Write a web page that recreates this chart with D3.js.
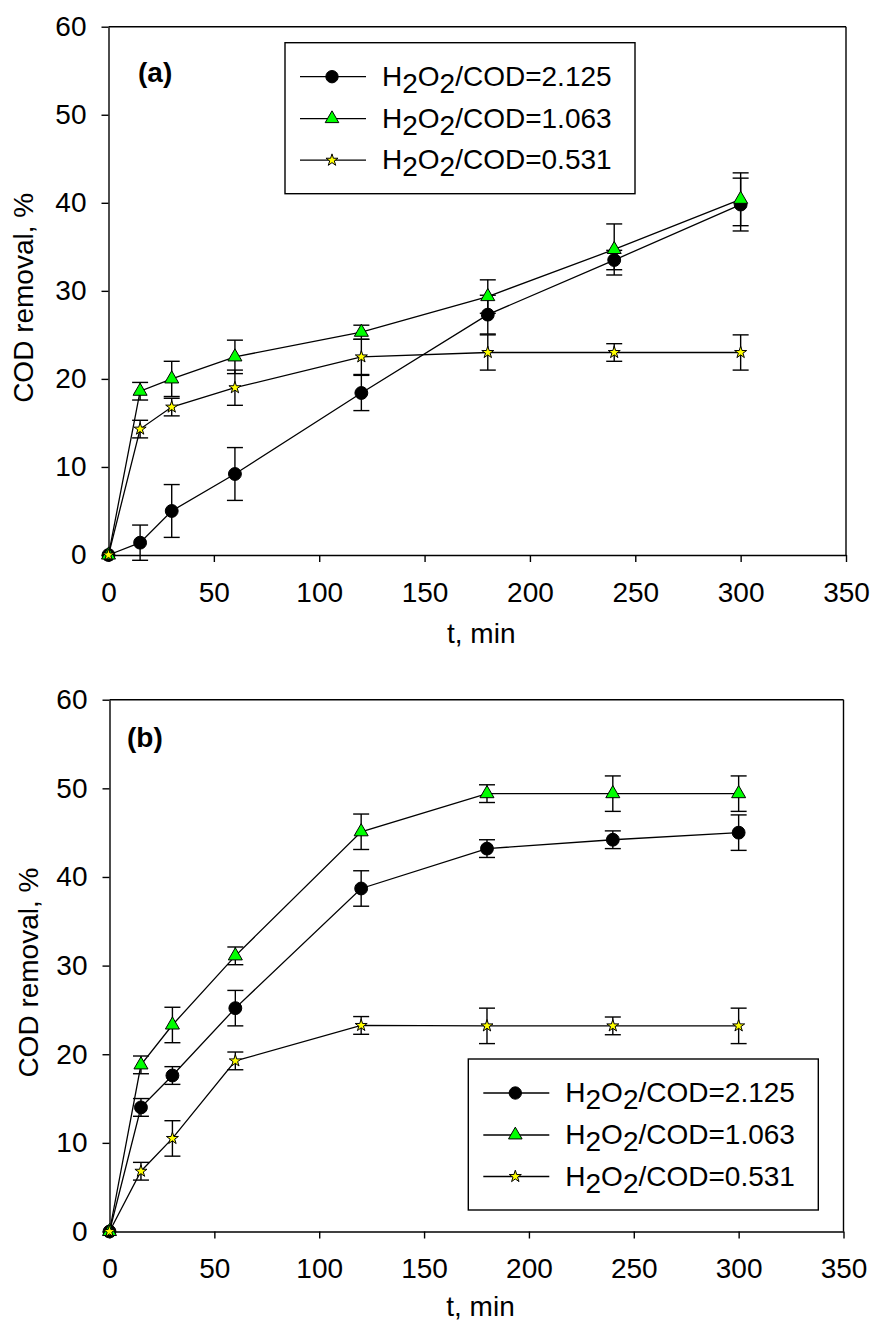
<!DOCTYPE html>
<html>
<head>
<meta charset="utf-8">
<script src="https://cdn.jsdelivr.net/npm/d3@7"></script>
<style>
  body { margin: 0; background: #fff; }
  svg { display: block; }
  text { font-family: "Liberation Sans", Arial, sans-serif; fill: #000; }
</style>
</head>
<body>
<div id="chart"></div>
<script>
// sampling times (min)
const times = [0, 15, 30, 60, 120, 180, 240, 300];
const ratios = ["2.125", "1.063", "0.531"];
const xTicks = [0, 50, 100, 150, 200, 250, 300, 350];
const yTicks = [0, 10, 20, 30, 40, 50, 60];

// panel (a) COD removal, % and error
const aHigh = [0, 1.4, 5.0, 9.2, 18.4, 27.3, 33.5, 39.8];
const aHighErr = [0, 2, 3, 3, 2, 2.2, 1.1, 3.0];
const aMid = [0, 18.6, 20.0, 22.5, 25.3, 29.35, 34.7, 40.4];
const aMidErr = [0, 1, 2, 1.9, 0.8, 1.9, 2.9, 3.0];
const aLow = [0, 14.3, 16.8, 19.0, 22.5, 23.0, 23.0, 23.0];
const aLowErr = [0, 1, 1, 2, 2, 2, 1, 2];

// panel (b)
const bHigh = [0, 14.0, 17.6, 25.2, 38.7, 43.2, 44.2, 45.0];
const bHighErr = [0, 1, 1, 2, 2, 1, 1, 2];
const bMid = [0, 18.8, 23.3, 31.1, 45.1, 49.4, 49.4, 49.4];
const bMidErr = [0, 1, 2, 1, 2, 1, 2, 2];
const bLow = [0, 6.8, 10.5, 19.25, 23.25, 23.2, 23.2, 23.2];
const bLowErr = [0, 1, 2, 1, 1, 2, 1, 2];

// marker styles per series
const markers = [
    { type: d3.symbolCircle, size: 130, fill: "#000000", legSize: 120 },
    { type: d3.symbolTriangle, size: 85, fill: "#00ff00", legSize: 80 },
    { type: d3.symbolStar, size: 45, fill: "#ffff00", legSize: 45 }
];

const fontSize = 28;

const svg = d3.select("#chart")
    .append("svg")
    .attr("width", 872)
    .attr("height", 1322);

svg.append("rect").attr("width", 872).attr("height", 1322).attr("fill", "#fff");

const panels = [
    {
        tag: "(a)", tagX: 138, tagY: 82,
        values: [aHigh, aMid, aLow], errors: [aHighErr, aMidErr, aLowErr],
        x0: 108.5, x1: 846, y0: 555, y1: 26.7,
        legX: 285, legY: 42.7, yLabX: 23, titleDy: 88
    },
    {
        tag: "(b)", tagX: 127, tagY: 747,
        values: [bHigh, bMid, bLow], errors: [bHighErr, bMidErr, bLowErr],
        x0: 109.5, x1: 843.5, y0: 1231.5, y1: 699.7,
        legX: 468.3, legY: 1059, yLabX: 27.5, titleDy: 84
    }
];

function styleAxis(g) {
    g.select(".domain").attr("stroke", "#000").attr("stroke-width", 1.4);
    g.selectAll(".tick line").attr("stroke", "#000").attr("stroke-width", 1.4);
    g.selectAll(".tick text")
        .attr("fill", "#000")
        .style("font-size", fontSize + "px")
        .style("font-family", '"Liberation Sans", Arial, sans-serif');
}

function drawPanel(p) {
    const x = d3.scaleLinear().domain([0, 350]).range([p.x0, p.x1]);
    const y = d3.scaleLinear().domain([0, 60]).range([p.y0, p.y1]);
    const g = svg.append("g");

    // frame (top and right)
    g.append("line")
        .attr("x1", x(0)).attr("x2", x(350)).attr("y1", y(60)).attr("y2", y(60))
        .attr("stroke", "#000").attr("stroke-width", 1.4);
    g.append("line")
        .attr("x1", x(350)).attr("x2", x(350)).attr("y1", y(60)).attr("y2", y(0))
        .attr("stroke", "#000").attr("stroke-width", 1.4);

    g.append("g")
        .attr("transform", `translate(0,${y(0)})`)
        .call(d3.axisBottom(x).tickValues(xTicks).tickSize(7).tickSizeOuter(0).tickPadding(20))
        .call(styleAxis);

    g.append("g")
        .attr("transform", `translate(${x(0)},0)`)
        .call(d3.axisLeft(y).tickValues(yTicks).tickSize(7).tickSizeOuter(0).tickPadding(15))
        .call(styleAxis);

    // axis titles
    g.append("text")
        .attr("x", (x(0) + x(350)) / 2 + 4)
        .attr("y", y(0) + p.titleDy)
        .attr("text-anchor", "middle")
        .style("font-size", fontSize + "px")
        .text("t, min");

    g.append("text")
        .attr("transform", `translate(${p.yLabX + 10},${(y(0) + y(60)) / 2 + 7}) rotate(-90)`)
        .attr("text-anchor", "middle")
        .style("font-size", fontSize + "px")
        .text("COD removal, %");

    g.append("text")
        .attr("x", p.tagX).attr("y", p.tagY)
        .style("font-size", fontSize + "px")
        .style("font-weight", "bold")
        .text(p.tag);

    const line = d3.line().x(d => x(d.t)).y(d => y(d.v));

    p.values.forEach((vals, si) => {
        const pts = times.map((t, i) => ({ t: t, v: vals[i], e: p.errors[si][i] }));
        const sg = g.append("g");

        sg.append("path")
            .attr("d", line(pts))
            .attr("fill", "none")
            .attr("stroke", "#000")
            .attr("stroke-width", 1.3);

        const bars = pts.filter(d => d.e > 0);
        sg.selectAll(".ebar").data(bars).enter().append("line")
            .attr("x1", d => x(d.t)).attr("x2", d => x(d.t))
            .attr("y1", d => y(d.v - d.e)).attr("y2", d => y(d.v + d.e))
            .attr("stroke", "#000").attr("stroke-width", 1.4);
        [-1, 1].forEach(s => {
            sg.selectAll(null).data(bars).enter().append("line")
                .attr("x1", d => x(d.t) - 8).attr("x2", d => x(d.t) + 8)
                .attr("y1", d => y(d.v + s * d.e)).attr("y2", d => y(d.v + s * d.e))
                .attr("stroke", "#000").attr("stroke-width", 1.4);
        });

        const m = markers[si];
        sg.selectAll(".mk").data(pts).enter().append("path")
            .attr("d", d3.symbol().type(m.type).size(m.size))
            .attr("transform", d => `translate(${x(d.t)},${y(d.v)})`)
            .attr("fill", m.fill)
            .attr("stroke", "#000")
            .attr("stroke-width", 1);
    });

    // legend
    const leg = g.append("g").attr("transform", `translate(${p.legX},${p.legY})`);
    leg.append("rect")
        .attr("width", 350).attr("height", 151)
        .attr("fill", "#fff")
        .attr("stroke", "#000").attr("stroke-width", 1.4);
    const rowY = [34, 76, 117.5];
    ratios.forEach((r, i) => {
        const m = markers[i];
        leg.append("line")
            .attr("x1", 15).attr("x2", 81).attr("y1", rowY[i]).attr("y2", rowY[i])
            .attr("stroke", "#000").attr("stroke-width", 1.3);
        leg.append("path")
            .attr("d", d3.symbol().type(m.type).size(m.legSize))
            .attr("transform", `translate(47,${rowY[i]})`)
            .attr("fill", m.fill).attr("stroke", "#000").attr("stroke-width", 1);
        const t = leg.append("text")
            .attr("x", 97).attr("y", rowY[i] + 9)
            .style("font-size", fontSize + "px");
        t.append("tspan").text("H");
        t.append("tspan").attr("dy", 7).text("2");
        t.append("tspan").attr("dy", -7).text("O");
        t.append("tspan").attr("dy", 7).text("2");
        t.append("tspan").attr("dy", -7).text("/COD=" + r);
    });
}

panels.forEach(drawPanel);
</script>
</body>
</html>
